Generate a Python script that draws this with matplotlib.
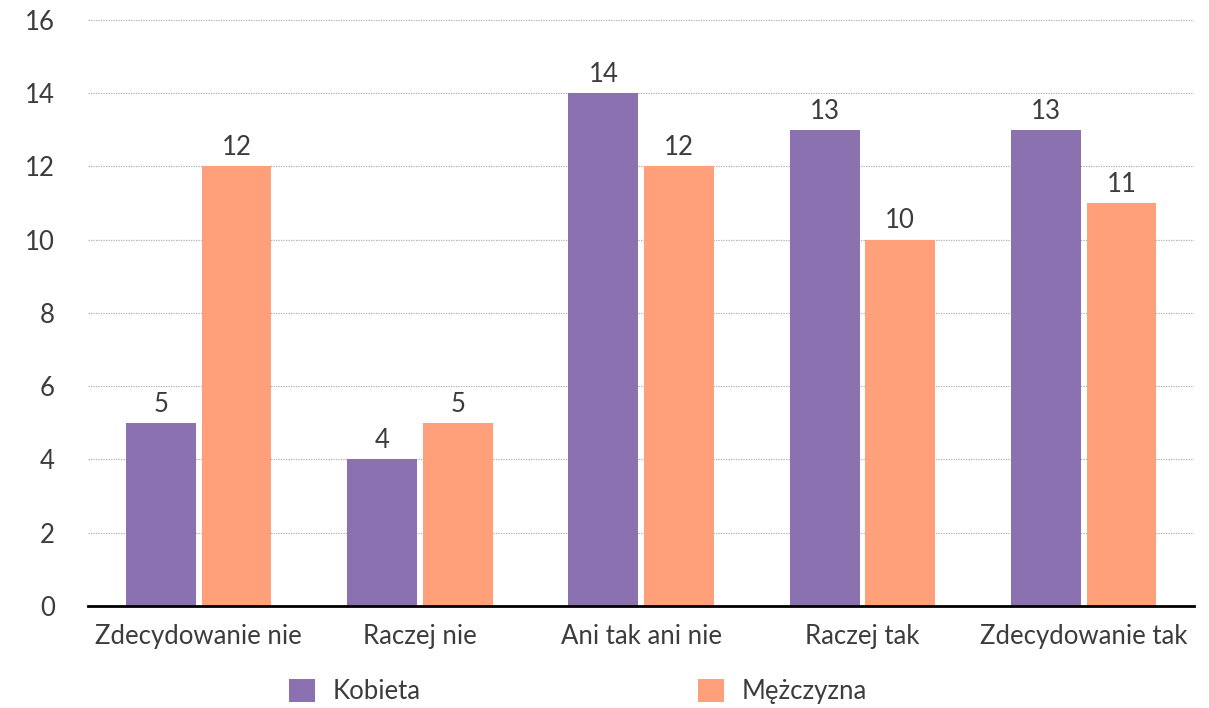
import numpy as np
import matplotlib.pyplot as plt

categories = ['Zdecydowanie nie', 'Raczej nie', 'Ani tak ani nie', 'Raczej tak', 'Zdecydowanie tak']
kobieta = [5, 4, 14, 13, 13]
mezczyzna = [12, 5, 12, 10, 11]
series_names = ['Kobieta', 'Mężczyzna']

plt.rcParams['font.family'] = ['Lato', 'DejaVu Sans']
text_color = '#3c3c3c'
fs = 18.5

fig = plt.figure(figsize=(12.09, 7.08), dpi=100)
ax = fig.add_axes([0.0728, 0.144, 0.915, 0.828])

x = np.arange(len(categories))
width = 0.316
off = 0.171
b1 = ax.bar(x - off, kobieta, width, color='#8c71b1', label=series_names[0])
b2 = ax.bar(x + off, mezczyzna, width, color='#ffa07a', label=series_names[1])

for bars, vals in [(b1, kobieta), (b2, mezczyzna)]:
    for rect, v in zip(bars, vals):
        ax.text(rect.get_x() + rect.get_width() / 2, v + 0.17, str(v),
                ha='center', va='bottom', fontsize=fs, color=text_color)

ax.set_xlim(-0.5, len(categories) - 0.5)
ax.set_ylim(0, 16)
ax.set_yticks(range(0, 17, 2))
ax.set_xticks(x)
ax.set_xticklabels(categories)
ax.tick_params(axis='both', length=0, labelsize=fs, colors=text_color)
ax.tick_params(axis='y', pad=24)
ax.tick_params(axis='x', pad=13)
ax.yaxis.grid(True, linestyle=(0, (1, 1)), color='#b0b0b0', linewidth=0.9)
ax.set_axisbelow(True)
for s in ['top', 'right', 'left']:
    ax.spines[s].set_visible(False)
ax.spines['bottom'].set_linewidth(2)
ax.spines['bottom'].set_color('black')

fig.legend(handles=[b1, b2], labels=series_names, loc='center', ncol=2,
           bbox_to_anchor=(0.478, 0.023), frameon=False, fontsize=fs,
           handlelength=1.0, handleheight=1.0, columnspacing=10.8,
           handletextpad=0.7, labelcolor=text_color)

fig.savefig('out.png', dpi=100)
